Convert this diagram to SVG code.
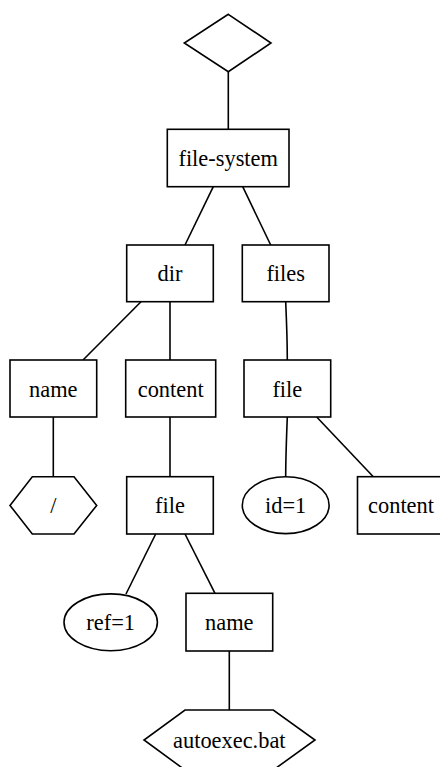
<svg xmlns="http://www.w3.org/2000/svg" width="440" height="767" viewBox="0 0 440 767">
  <style>
    .shape { fill: #ffffff; stroke: #000000; stroke-width: 1.6; }
    .edge { fill: none; stroke: #000000; stroke-width: 1.6; }
    text { font-family: 'Liberation Serif', 'Times New Roman', Times, 'DejaVu Serif', serif; font-size: 22.4px; text-anchor: middle; fill: #000000; }
  </style>
  <rect width="440" height="767" fill="#ffffff"/>

  <!-- tree edges -->
  <g id="edges">
    <path class="edge" d="M228.3,71.7 L228.3,129.3"/>
    <path class="edge" d="M213.3,186.7 L185,245"/>
    <path class="edge" d="M242.7,186.7 L270.7,245"/>
    <path class="edge" d="M141,301.7 L83,360"/>
    <path class="edge" d="M170,301.7 L170,360"/>
    <path class="edge" d="M285.7,301.7 C286.5,320 287.3,340 287.3,360"/>
    <path class="edge" d="M53.3,417 L53.3,476.7"/>
    <path class="edge" d="M170,417 L170,476.7"/>
    <path class="edge" d="M287.3,417 C286.5,437 285.7,457 285.7,476.7"/>
    <path class="edge" d="M316.7,417 L373.3,476.7"/>
    <path class="edge" d="M155.7,534 L126,594"/>
    <path class="edge" d="M185,534 L215,593.3"/>
    <path class="edge" d="M229.3,651 L229.3,710"/>
  </g>

  <g id="root">
    <polygon class="shape" points="228.3,14.3 271,43 228.3,71.7 184.3,43"/>
  </g>

  <g id="file-system">
    <rect class="shape" x="167.3" y="129.3" width="121.7" height="57.4"/>
    <text x="228.2" y="166">file-system</text>
  </g>

  <g id="dir">
    <rect class="shape" x="126.7" y="245" width="86.6" height="56.7"/>
    <text x="170" y="281">dir</text>
  </g>

  <g id="files">
    <rect class="shape" x="242.3" y="245" width="86.7" height="56.7"/>
    <text x="285.7" y="281">files</text>
  </g>

  <g id="dir-name">
    <rect class="shape" x="10" y="360" width="86.7" height="57"/>
    <text x="53.3" y="396.5">name</text>
  </g>

  <g id="dir-content">
    <rect class="shape" x="125.7" y="360" width="90" height="57"/>
    <text x="170.7" y="396.5">content</text>
  </g>

  <g id="files-file">
    <rect class="shape" x="244" y="360" width="86.7" height="57"/>
    <text x="287.3" y="396.5">file</text>
  </g>

  <g id="dir-name-value">
    <polygon class="shape" points="32.3,476.7 74,476.7 96.7,505.4 74,534 32.3,534 10,505.4"/>
    <text x="53.3" y="512.5">/</text>
  </g>

  <g id="content-file">
    <rect class="shape" x="126.7" y="476.7" width="86.6" height="57.3"/>
    <text x="170" y="513">file</text>
  </g>

  <g id="file-id">
    <ellipse class="shape" cx="285.7" cy="505.2" rx="43.4" ry="28.4"/>
    <text x="285.7" y="513">id=1</text>
  </g>

  <g id="file-content">
    <rect class="shape" x="357.5" y="476.7" width="89" height="57.3"/>
    <text x="401" y="513">content</text>
  </g>

  <g id="file-ref">
    <ellipse class="shape" cx="110.7" cy="622.3" rx="46.7" ry="28.4"/>
    <text x="110.7" y="630">ref=1</text>
  </g>

  <g id="file-name">
    <rect class="shape" x="186" y="593.3" width="86.7" height="57.7"/>
    <text x="229.3" y="630">name</text>
  </g>

  <g id="file-name-value">
    <polygon class="shape" points="185,710 273.3,710 315,740 273.3,770 185,770 144,740"/>
    <text x="229.3" y="748">autoexec.bat</text>
  </g>
</svg>
